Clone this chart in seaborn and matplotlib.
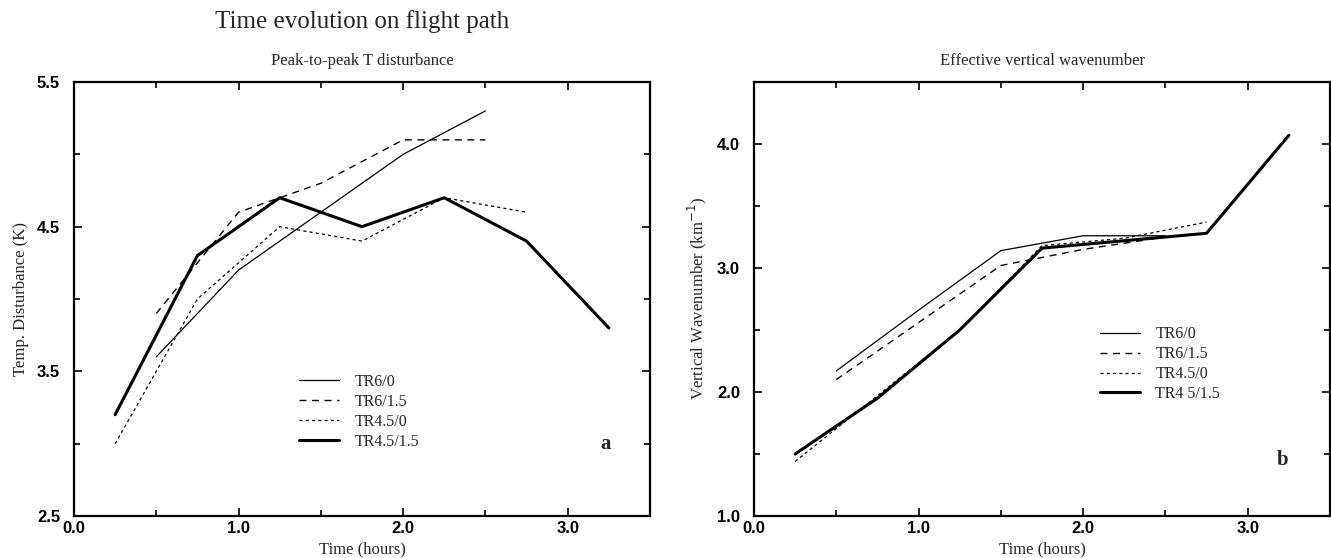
import numpy as np
import pandas as pd
import matplotlib
matplotlib.use("Agg")
import matplotlib.pyplot as plt
from matplotlib.ticker import MultipleLocator, FormatStrFormatter
import seaborn as sns

# ---------------- data ----------------
series_names = ["TR6/0", "TR6/1.5", "TR4.5/0", "TR4.5/1.5"]
legend_labels_b = ["TR6/0", "TR6/1.5", "TR4.5/0", "TR4 5/1.5"]

# Panel a: peak-to-peak T disturbance (K)
a_t_tr6_0 = [0.5, 1.0, 1.5, 2.0, 2.5]
a_y_tr6_0 = [3.6, 4.2, 4.6, 5.0, 5.3]
a_t_tr6_15 = [0.5, 1.0, 1.5, 2.0, 2.5]
a_y_tr6_15 = [3.9, 4.6, 4.8, 5.1, 5.1]
a_t_tr45_0 = [0.25, 0.75, 1.25, 1.75, 2.25, 2.75]
a_y_tr45_0 = [3.0, 4.0, 4.5, 4.4, 4.7, 4.6]
a_t_tr45_15 = [0.25, 0.75, 1.25, 1.75, 2.25, 2.75, 3.25]
a_y_tr45_15 = [3.2, 4.3, 4.7, 4.5, 4.7, 4.4, 3.8]

# Panel b: effective vertical wavenumber (km^-1)
b_t_tr6_0 = [0.5, 1.0, 1.5, 2.0, 2.5]
b_y_tr6_0 = [2.17, 2.66, 3.14, 3.26, 3.26]
b_t_tr6_15 = [0.5, 1.0, 1.5, 2.0, 2.5]
b_y_tr6_15 = [2.10, 2.56, 3.02, 3.15, 3.25]
b_t_tr45_0 = [0.25, 0.75, 1.25, 1.75, 2.25, 2.75]
b_y_tr45_0 = [1.44, 1.97, 2.50, 3.18, 3.24, 3.37]
b_t_tr45_15 = [0.25, 0.75, 1.25, 1.75, 2.25, 2.75, 3.25]
b_y_tr45_15 = [1.50, 1.95, 2.50, 3.16, 3.22, 3.28, 4.07]

x_ticks = [0.0, 1.0, 2.0, 3.0]
a_y_ticks = [2.5, 3.5, 4.5, 5.5]
b_y_ticks = [1.0, 2.0, 3.0, 4.0]

# ---------------- style ----------------
sns.set_style("ticks")
plt.rcParams["font.family"] = ["Liberation Serif", "DejaVu Serif"]
plt.rcParams["xtick.direction"] = "in"
plt.rcParams["ytick.direction"] = "in"

line_styles = {
    "TR6/0": dict(linestyle="-", linewidth=0.9),
    "TR6/1.5": dict(linestyle=(0, (5, 4)), linewidth=1.0),
    "TR4.5/0": dict(linestyle=(0, (2.5, 2.5)), linewidth=0.9),
    "TR4.5/1.5": dict(linestyle="-", linewidth=2.2),
}

fig = plt.figure(figsize=(13.31, 5.58), dpi=100)
W, H = 1331, 558
def box(l, r, t, b):
    return [l / W, 1 - b / H, (r - l) / W, (b - t) / H]

ax_a = fig.add_axes(box(74, 650, 82, 516))
ax_b = fig.add_axes(box(754, 1330, 82, 516))

def draw(ax, data, labels):
    for (name, lab), (t, y) in zip(zip(series_names, labels), data):
        df = pd.DataFrame({"Time": t, "Val": y})
        sns.lineplot(data=df, x="Time", y="Val", ax=ax, color="black",
                     label=lab, **line_styles[name])

draw(ax_a, [(a_t_tr6_0, a_y_tr6_0), (a_t_tr6_15, a_y_tr6_15),
            (a_t_tr45_0, a_y_tr45_0), (a_t_tr45_15, a_y_tr45_15)], series_names)
draw(ax_b, [(b_t_tr6_0, b_y_tr6_0), (b_t_tr6_15, b_y_tr6_15),
            (b_t_tr45_0, b_y_tr45_0), (b_t_tr45_15, b_y_tr45_15)], legend_labels_b)

def style_axes(ax, ylim, yticks):
    ax.set_xlim(0, 3.5)
    ax.set_ylim(*ylim)
    ax.set_xticks(x_ticks)
    ax.set_yticks(yticks)
    ax.xaxis.set_minor_locator(MultipleLocator(0.5))
    ax.yaxis.set_minor_locator(MultipleLocator(0.5))
    ax.xaxis.set_major_formatter(FormatStrFormatter("%.1f"))
    ax.yaxis.set_major_formatter(FormatStrFormatter("%.1f"))
    ax.tick_params(which="both", direction="in", top=True, right=True,
                   width=1.2, colors="black")
    ax.tick_params(which="major", length=6)
    ax.tick_params(which="minor", length=4)
    ax.tick_params(axis="y", which="major", pad=10)
    for lab in ax.get_xticklabels() + ax.get_yticklabels():
        lab.set_fontfamily("Liberation Sans")
        lab.set_fontweight("bold")
        lab.set_fontsize(12)
    for s in ax.spines.values():
        s.set_visible(True)
        s.set_linewidth(1.6)
        s.set_color("black")
    ax.set_xlabel("Time (hours)", fontsize=12, labelpad=4)

style_axes(ax_a, (2.5, 5.5), a_y_ticks)
style_axes(ax_b, (1.0, 4.5), b_y_ticks)

ax_a.set_ylabel("Temp. Disturbance (K)", fontsize=12, labelpad=6)
ax_b.set_ylabel("Vertical Wavenumber (km$^{-1}$)", fontsize=12, labelpad=6)

ax_a.set_title("Peak-to-peak T disturbance", fontsize=12, pad=12)
ax_b.set_title("Effective vertical wavenumber", fontsize=12, pad=12)
fig.text(362 / W, 1 - 22 / H, "Time evolution on flight path",
         ha="center", va="center", fontsize=18)

leg_a = ax_a.legend(loc="center left", bbox_to_anchor=(0.365, 0.24),
                    frameon=False, fontsize=11.5, handlelength=2.5,
                    labelspacing=0.25, handletextpad=1.0)
leg_b = ax_b.legend(loc="center left", bbox_to_anchor=(0.575, 0.35),
                    frameon=False, fontsize=11.5, handlelength=2.5,
                    labelspacing=0.25, handletextpad=1.0)

ax_a.text(3.23, 3.0, "a", fontsize=15, fontweight="bold", ha="center", va="center")
ax_b.text(3.21, 1.45, "b", fontsize=15, fontweight="bold", ha="center", va="center")

fig.savefig("out.png", dpi=100)
